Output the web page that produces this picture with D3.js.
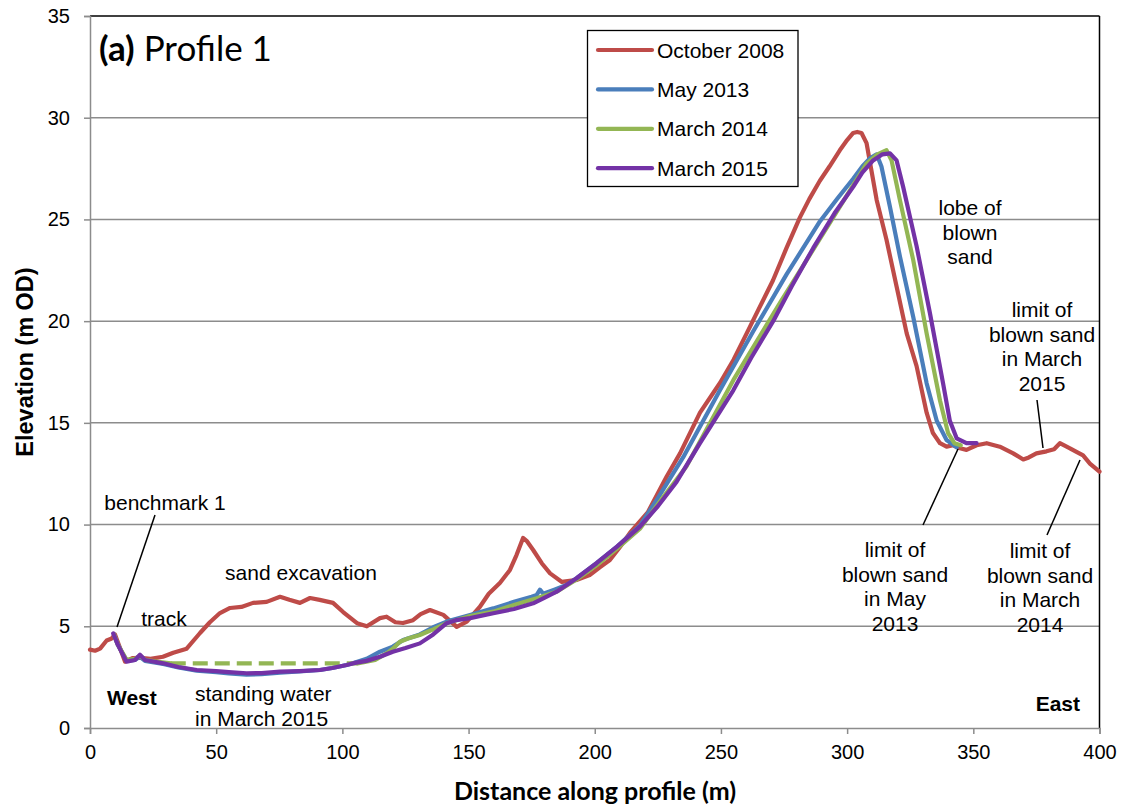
<!DOCTYPE html>
<head>
<meta charset="utf-8">
<title>Profile 1</title>
<style>
  body { margin: 0; background: #fff; }
  text { font-family: "Liberation Sans", Arial, sans-serif; fill: #000; }
</style>
</head>
<script src="https://d3js.org/d3.v7.min.js"></script>
<div id="chart"></div>
<script>

// ---- data ----
var seriesNames = ["October 2008", "May 2013", "March 2014", "March 2015"];
var seriesColors = ["#BE4B48", "#4A7EBB", "#93B654", "#7332A6"];

var octDist = [0, 2, 4, 6.6, 8.6, 9.9, 12, 13.9, 17, 20, 24, 28.9, 33, 38.3, 43.6, 47.5, 51.5, 55.5, 60, 64.6, 70, 75.3, 79, 83.2, 87.2, 91, 96.3, 100.3, 105.8, 109.7, 114.9, 117.5, 121, 124, 128, 131, 134.7, 140, 145.3, 149.3, 154.5, 158, 162.4, 166.4, 169, 171.6, 173, 175.6, 179, 182.3, 187, 193, 198, 202, 206, 210, 214, 221, 228.5, 233.8, 241.7, 249.6, 255, 260.2, 265, 270.6, 276, 281.3, 285, 289.2, 293, 297.1, 300, 302.4, 304, 305.7, 307.7, 309.5, 311.7, 315.6, 319.6, 323.6, 327.5, 331.5, 334, 336.8, 339.4, 342, 344.7, 347.3, 351.3, 355.3, 360.5, 365.8, 369.8, 372, 375, 379, 382, 384.3, 388.3, 390.5, 393.5, 396.2, 400];
var octElev = [3.85, 3.8, 3.9, 4.3, 4.4, 4.6, 3.9, 3.26, 3.44, 3.45, 3.4, 3.5, 3.7, 3.9, 4.67, 5.2, 5.65, 5.9, 5.95, 6.15, 6.2, 6.45, 6.3, 6.15, 6.39, 6.3, 6.15, 5.7, 5.15, 5.0, 5.4, 5.47, 5.2, 5.16, 5.3, 5.6, 5.8, 5.56, 4.97, 5.23, 5.96, 6.6, 7.13, 7.77, 8.5, 9.34, 9.2, 8.75, 8.1, 7.6, 7.18, 7.28, 7.52, 7.9, 8.26, 8.9, 9.6, 10.6, 12.36, 13.5, 15.5, 16.96, 18.1, 19.4, 20.6, 22.0, 23.6, 25.1, 26.0, 26.9, 27.6, 28.4, 28.9, 29.25, 29.3, 29.25, 28.75, 27.5, 25.96, 24.0, 21.7, 19.4, 17.8, 15.5, 14.5, 14.0, 13.83, 13.9, 13.75, 13.67, 13.9, 14.0, 13.83, 13.5, 13.2, 13.3, 13.5, 13.6, 13.7, 14.0, 13.75, 13.6, 13.4, 13.0, 12.6];

var mayDist = [9.5, 11, 14.5, 17.8, 19.8, 21.8, 29, 35, 42.3, 50, 55, 62, 68, 75.3, 83, 91.1, 96, 101.7, 105, 109.6, 114.9, 120, 124.1, 130.7, 136, 141.3, 150.6, 159.8, 168, 175, 177, 178.3, 179.6, 184, 188.8, 192.8, 200.7, 208.7, 217.9, 225, 235, 249.6, 262.8, 276, 289.2, 296, 302.4, 306, 309, 311.7, 313.6, 317, 320.9, 326.2, 331.5, 335.5, 339.4, 343.4];
var mayElev = [4.6, 4.1, 3.3, 3.35, 3.5, 3.3, 3.15, 2.98, 2.82, 2.75, 2.68, 2.62, 2.65, 2.72, 2.78, 2.85, 2.95, 3.1, 3.22, 3.4, 3.75, 4.0, 4.33, 4.6, 4.95, 5.23, 5.55, 5.88, 6.2, 6.45, 6.54, 6.8, 6.6, 6.8, 7.03, 7.36, 8.1, 8.9, 9.95, 11.3, 13.3, 16.6, 19.5, 22.3, 24.9, 26.0, 27.0, 27.6, 28.0, 28.2, 27.6, 25.6, 23.2, 20.2, 16.95, 15.1, 14.16, 13.8];

var mar14Dist = [9.5, 11, 14.5, 17.8, 19.8, 22, 27, 32, 106, 108, 113, 117.5, 120, 122.8, 126, 130.7, 136, 141.3, 150.6, 159.8, 168, 177, 184.9, 192.8, 200.7, 208.7, 217.9, 225, 236.3, 254.9, 273.4, 294.5, 302, 307.7, 312, 315.6, 317.6, 320.9, 326.2, 331.5, 336.8, 340, 342.5, 345];
var mar14Elev = [4.6, 4.1, 3.35, 3.4, 3.55, 3.35, 3.25, 3.18, 3.18, 3.22, 3.35, 3.67, 3.9, 4.24, 4.4, 4.57, 4.85, 5.15, 5.5, 5.72, 6.05, 6.38, 6.7, 7.3, 8.0, 8.8, 9.8, 11.0, 12.85, 17.1, 20.9, 25.1, 26.6, 27.75, 28.2, 28.4, 27.9, 25.96, 23.0, 19.4, 16.1, 14.5, 14.0, 13.9];
// part of the March 2014 line drawn dashed (standing water)
var mar14Dashed = [32, 106];

var mar15Dist = [9.2, 11, 14.5, 17.8, 19.8, 21.8, 29, 35, 42.3, 50, 55, 62, 68, 75.3, 83, 91.1, 96, 101.7, 105, 109.6, 114.9, 120, 125, 130.7, 136, 141.3, 145, 150.6, 159.8, 168, 175.6, 180, 184.9, 192.8, 200.7, 208.7, 217.9, 225, 232.4, 241.7, 254.9, 262, 270.7, 278, 286.6, 295, 302.4, 306, 310.3, 314, 317, 319.6, 322.2, 327.5, 332.8, 338, 340.7, 343.4, 347.3, 351.3];
var mar15Elev = [4.65, 4.1, 3.26, 3.34, 3.6, 3.34, 3.18, 3.0, 2.85, 2.8, 2.75, 2.69, 2.7, 2.77, 2.8, 2.85, 2.95, 3.1, 3.2, 3.3, 3.5, 3.75, 3.93, 4.16, 4.6, 5.15, 5.3, 5.4, 5.64, 5.85, 6.13, 6.4, 6.7, 7.36, 8.1, 8.9, 9.9, 10.9, 12.1, 14.0, 16.6, 18.2, 20.0, 21.7, 23.6, 25.3, 26.6, 27.3, 27.9, 28.2, 28.25, 27.9, 26.6, 23.7, 20.4, 16.95, 15.1, 14.24, 14.0, 14.0];

var xTicks = [0, 50, 100, 150, 200, 250, 300, 350, 400];
var yTicks = [0, 5, 10, 15, 20, 25, 30, 35];

// ---- layout ----
var W = 1123, H = 806;
var plotLeft = 90, plotRight = 1099.5, plotTop = 16, plotBottom = 728;

var svg = d3.select("#chart").append("svg")
    .attr("width", W).attr("height", H);

var x = d3.scaleLinear().domain([0, 400]).range([plotLeft, plotRight]);
var y = d3.scaleLinear().domain([0, 35]).range([plotBottom, plotTop]);

// horizontal gridlines
svg.append("g").selectAll("line")
    .data(yTicks.slice(1, -1))
    .enter().append("line")
    .attr("x1", plotLeft).attr("x2", plotRight)
    .attr("y1", function(d) { return y(d); })
    .attr("y2", function(d) { return y(d); })
    .attr("stroke", "#8c8c8c").attr("stroke-width", 1.5);

// plot frame (top and right are black)
svg.append("line").attr("x1", plotLeft).attr("x2", plotRight).attr("y1", plotTop).attr("y2", plotTop)
    .attr("stroke", "#000").attr("stroke-width", 1.5);
svg.append("line").attr("x1", plotRight).attr("x2", plotRight).attr("y1", plotTop).attr("y2", plotBottom)
    .attr("stroke", "#000").attr("stroke-width", 1.5);

// axes
var xAxis = svg.append("g")
    .attr("transform", "translate(0," + plotBottom + ")")
    .call(d3.axisBottom(x).tickValues(xTicks).tickSize(6).tickPadding(11));
var yAxis = svg.append("g")
    .attr("transform", "translate(" + plotLeft + ",0)")
    .call(d3.axisLeft(y).tickValues(yTicks).tickSize(6).tickPadding(14));
[xAxis, yAxis].forEach(function(a) {
  a.select(".domain").attr("stroke", "#8c8c8c").attr("stroke-width", 1.5);
  a.selectAll(".tick line").attr("stroke", "#8c8c8c").attr("stroke-width", 1.5);
  a.selectAll(".tick text")
    .style("font-family", '"Liberation Sans", Arial, sans-serif')
    .style("font-size", "20px").attr("fill", "#000");
});
xAxis.selectAll(".tick text").attr("dy", "0.71em");

// series lines
function pts(ds, es) { return ds.map(function(d, i) { return [d, es[i]]; }); }
var line = d3.line()
    .x(function(p) { return x(p[0]); })
    .y(function(p) { return y(p[1]); });

var g = svg.append("g")
    .attr("fill", "none")
    .attr("stroke-width", 4.2)
    .attr("stroke-linejoin", "round")
    .attr("stroke-linecap", "round");

var oct = pts(octDist, octElev), may = pts(mayDist, mayElev),
    m14 = pts(mar14Dist, mar14Elev), m15 = pts(mar15Dist, mar15Elev);

g.append("path").attr("d", line(oct)).attr("stroke", seriesColors[0]);
g.append("path").attr("d", line(may)).attr("stroke", seriesColors[1]);
g.append("path").attr("d", line(m14.filter(function(p) { return p[0] <= mar14Dashed[0]; })))
    .attr("stroke", seriesColors[2]);
g.append("path").attr("d", line(m14.filter(function(p) { return p[0] >= mar14Dashed[0] && p[0] <= mar14Dashed[1]; })))
    .attr("stroke", seriesColors[2]).attr("stroke-dasharray", "15,7").attr("stroke-linecap", "butt");
g.append("path").attr("d", line(m14.filter(function(p) { return p[0] >= mar14Dashed[1]; })))
    .attr("stroke", seriesColors[2]);
g.append("path").attr("d", line(m15)).attr("stroke", seriesColors[3]);

// legend
var lg = svg.append("g");
lg.append("rect").attr("x", 587.5).attr("y", 30.5).attr("width", 210.5).attr("height", 156)
    .attr("fill", "#fff").attr("stroke", "#000").attr("stroke-width", 1.3);
seriesNames.forEach(function(name, i) {
  var ly = 50 + i * 39.4;
  lg.append("line").attr("x1", 598).attr("x2", 652).attr("y1", ly).attr("y2", ly)
    .attr("stroke", seriesColors[i]).attr("stroke-width", 4.2).attr("stroke-linecap", "round");
  lg.append("text").attr("x", 657).attr("y", ly + 7.5).style("font-size", "21px").text(name);
});

// title inside plot
var title = svg.append("text").attr("x", 99).attr("y", 61)
    .style("font-family", "Lato, 'Open Sans', sans-serif").style("font-size", "35px");
title.append("tspan").style("font-weight", "bold").text("(a)");
title.append("tspan").text(" Profile 1");

// axis titles
svg.append("text").attr("x", 595).attr("y", 800).attr("text-anchor", "middle")
    .style("font-family", "Lato, 'Open Sans', sans-serif").style("font-size", "25px")
    .style("font-weight", "bold").text("Distance along profile (m)");
svg.append("text").attr("transform", "translate(33,362) rotate(-90)").attr("text-anchor", "middle")
    .style("font-size", "23.5px").style("font-weight", "bold").text("Elevation (m OD)");

// annotations
function note(lines, cx, by, anchor) {
  var t = svg.append("text").attr("text-anchor", anchor || "middle").style("font-size", "21px");
  lines.forEach(function(s, i) {
    t.append("tspan").attr("x", cx).attr("y", by + i * 24.5).text(s);
  });
  return t;
}
note(["benchmark 1"], 165, 510);
note(["track"], 164, 626);
note(["sand excavation"], 301, 580);
note(["standing water", "in March 2015"], 195, 701, "start");
note(["lobe of", "blown", "sand"], 970, 215);
note(["limit of", "blown sand", "in March", "2015"], 1042, 317);
note(["limit of", "blown sand", "in May", "2013"], 895, 557);
note(["limit of", "blown sand", "in March", "2014"], 1040, 558);
note(["West"], 107, 705, "start").style("font-weight", "bold");
note(["East"], 1080, 711, "end").style("font-weight", "bold");

// leader lines
var leaders = [
  [155, 515, 117, 627],
  [1037, 400, 1043, 448],
  [923, 525, 958, 449],
  [1047, 535, 1080, 460]
];
svg.append("g").selectAll("line").data(leaders).enter().append("line")
  .attr("x1", function(d) { return d[0]; }).attr("y1", function(d) { return d[1]; })
  .attr("x2", function(d) { return d[2]; }).attr("y2", function(d) { return d[3]; })
  .attr("stroke", "#000").attr("stroke-width", 1.5);

</script>
